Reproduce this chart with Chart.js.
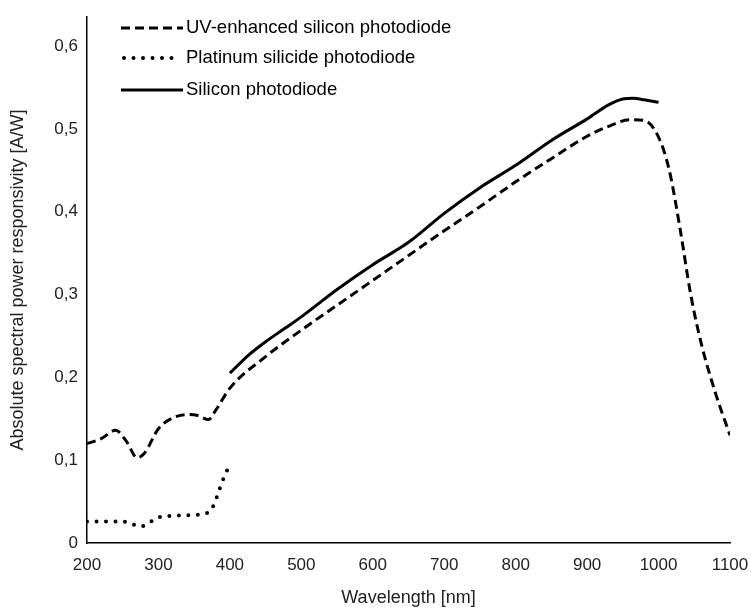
<!DOCTYPE html>
<html>
<head>
<meta charset="utf-8">
<script src="https://cdn.jsdelivr.net/npm/chart.js@4/dist/chart.umd.min.js"></script>
<style>
html,body{margin:0;padding:0;background:#fff;}
#wrap{width:751px;height:610px;}
</style>
</head>
<body>
<div id="wrap"><canvas id="c" width="751" height="610"></canvas></div>
<script>
const uvX = [200,220,240,255,270,280,300,320,340,355,370,380,400,450,500,550,600,650,700,750,800,850,900,930,960,980,1000,1015,1030,1045,1060,1080,1100];
const uvY = [0.12,0.126,0.136,0.123,0.103,0.108,0.138,0.151,0.155,0.154,0.149,0.16,0.187,0.225,0.257,0.287,0.317,0.347,0.377,0.406,0.436,0.464,0.491,0.503,0.511,0.51,0.49,0.45,0.38,0.3,0.24,0.18,0.13];
const siX = [400,425,450,475,500,550,600,650,700,750,800,850,900,930,950,965,980,1000];
const siY = [0.205,0.226,0.243,0.258,0.273,0.306,0.336,0.363,0.398,0.429,0.456,0.486,0.512,0.529,0.536,0.537,0.535,0.532];
const ptX = [200,225,250,262,275,290,300,325,350,370,378,385,392,400];
const ptY = [0.026,0.026,0.026,0.023,0.02,0.026,0.031,0.033,0.034,0.037,0.047,0.064,0.08,0.095];
const seriesNames = ['UV-enhanced silicon photodiode','Platinum silicide photodiode','Silicon photodiode'];
const xTicks = [200,300,400,500,600,700,800,900,1000,1100];
const yTicks = [0,0.1,0.2,0.3,0.4,0.5,0.6];

const pts = (xs, ys) => xs.map((x, i) => ({x: x, y: ys[i]}));
const FONT = "'Liberation Sans', Arial, sans-serif";

const styles = [
  {dash: [9, 5], cap: 'butt', width: 3},
  {dash: [0, 9.5], cap: 'round', width: 4},
  {dash: [], cap: 'butt', width: 3}
];

const legendPlugin = {
  id: 'insideLegend',
  afterDraw(chart) {
    const ctx = chart.ctx;
    const rows = [28, 58, 90];
    ctx.save();
    seriesNames.forEach((name, i) => {
      const s = styles[i];
      const y = rows[i];
      ctx.beginPath();
      ctx.setLineDash(s.dash);
      ctx.lineCap = s.cap;
      ctx.lineWidth = s.width;
      ctx.strokeStyle = '#000';
      if (i === 1) { ctx.moveTo(124, y); ctx.lineTo(180, y); }
      else { ctx.moveTo(121, y); ctx.lineTo(183, y); }
      ctx.stroke();
      ctx.setLineDash([]);
      ctx.fillStyle = '#000';
      ctx.font = '18.5px ' + FONT;
      ctx.textBaseline = 'middle';
      ctx.textAlign = 'left';
      ctx.fillText(name, 186, y);
    });
    ctx.restore();
  }
};

new Chart(document.getElementById('c'), {
  type: 'line',
  data: {
    datasets: [
      {label: seriesNames[0], data: pts(uvX, uvY), borderColor: '#000', borderWidth: styles[0].width, borderDash: styles[0].dash, borderCapStyle: 'butt', pointRadius: 0, cubicInterpolationMode: 'monotone', fill: false},
      {label: seriesNames[1], data: pts(ptX, ptY), borderColor: '#000', borderWidth: styles[1].width, borderDash: styles[1].dash, borderCapStyle: 'round', pointRadius: 0, cubicInterpolationMode: 'monotone', fill: false},
      {label: seriesNames[2], data: pts(siX, siY), borderColor: '#000', borderWidth: styles[2].width, pointRadius: 0, cubicInterpolationMode: 'monotone', fill: false}
    ]
  },
  options: {
    responsive: false,
    animation: false,
    layout: {padding: {top: 17, right: 21, left: 0, bottom: 0}},
    plugins: {legend: {display: false}, tooltip: {enabled: false}},
    scales: {
      x: {
        type: 'linear', min: 200, max: 1100,
        afterBuildTicks: (s) => { s.ticks = xTicks.map(v => ({value: v})); },
        afterFit: (s) => { s.height = 67; s.paddingLeft = 0; s.paddingRight = 0; },
        grid: {display: false, drawTicks: false},
        border: {display: true, color: '#000', width: 1.5},
        ticks: {color: '#222', font: {family: FONT, size: 17}, padding: 12, maxRotation: 0, autoSkip: false,
          callback: (v) => String(v)},
        title: {display: true, text: 'Wavelength [nm]', color: '#222', font: {family: FONT, size: 18}, padding: {top: 0, bottom: 1}}
      },
      y: {
        type: 'linear', min: 0, max: 0.635,
        afterBuildTicks: (s) => { s.ticks = yTicks.map(v => ({value: v})); },
        afterFit: (s) => { s.width = 87; s.paddingTop = 0; s.paddingBottom = 0; },
        grid: {display: false, drawTicks: false},
        border: {display: true, color: '#000', width: 1.5},
        ticks: {color: '#222', font: {family: FONT, size: 17}, padding: 9,
          callback: (v) => v === 0 ? '0' : v.toFixed(1).replace('.', ',')},
        title: {display: true, text: 'Absolute spectral power responsivity [A/W]', color: '#222', font: {family: FONT, size: 18}, padding: {top: 7, bottom: 0}}
      }
    }
  },
  plugins: [legendPlugin]
});
</script>
</body>
</html>
